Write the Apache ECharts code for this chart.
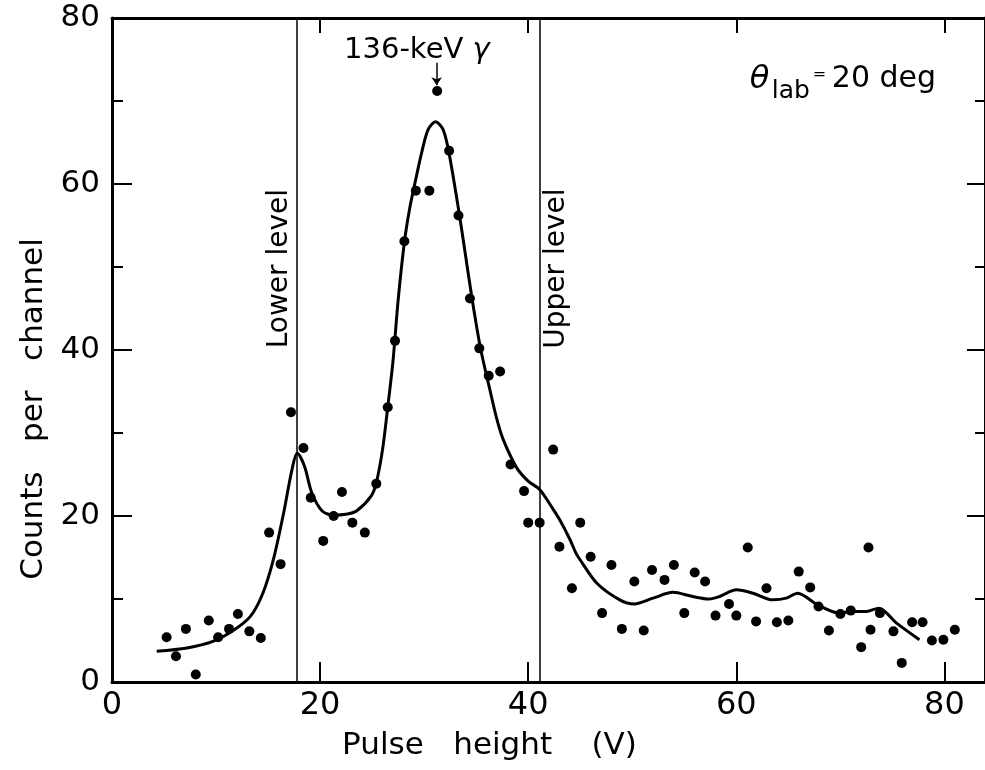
<!DOCTYPE html>
<html>
<head>
<meta charset="utf-8">
<script src="https://cdn.jsdelivr.net/npm/echarts@6/dist/echarts.min.js"></script>
<style>html,body{margin:0;padding:0;background:#fff}#c{width:985px;height:770px}</style>
</head>
<body>
<div id="c"></div>
<script>
// ---- data ----
const pointData = [
  [5.25,5.4],[6.15,3.1],[7.1,6.4],[8.05,0.9],[9.3,7.4],[10.2,5.4],[11.25,6.4],[12.1,8.2],[13.2,6.1],[14.3,5.3],
  [15.1,18.0],[16.2,14.2],[17.2,32.5],[18.4,28.2],[19.1,22.2],[20.3,17.0],[21.3,20.0],[22.1,22.9],[23.1,19.2],[24.3,18.0],
  [25.4,23.9],[26.5,33.1],[27.2,41.1],[28.1,53.1],[29.2,59.2],[30.5,59.2],[31.25,71.2],[32.4,64.0],[33.3,56.2],[34.4,46.2],
  [35.3,40.2],[36.2,36.9],[37.3,37.4],[38.3,26.2],[39.6,23.0],[40.0,19.2],[41.1,19.2],[42.4,28.0],[43.0,16.3],[44.2,11.3],
  [45.0,19.2],[46.0,15.1],[47.1,8.3],[48.0,14.1],[49.0,6.4],[50.2,12.1],[51.1,6.2],[51.9,13.5],[53.1,12.3],[54.0,14.1],
  [55.0,8.3],[56.0,13.2],[57.0,12.1],[58.0,8.0],[59.3,9.4],[60.0,8.0],[61.1,16.2],[61.9,7.3],[62.9,11.3],[63.9,7.2],
  [65.0,7.4],[66.0,13.3],[67.1,11.4],[67.9,9.1],[68.9,6.2],[70.0,8.2],[71.0,8.6],[72.0,4.2],[72.7,16.2],[72.9,6.3],
  [73.8,8.3],[75.1,6.1],[75.9,2.3],[76.9,7.2],[77.9,7.2],[78.8,5.0],[79.9,5.1],[81.0,6.3]
];
const curveData = [
  [4.3,3.7],[7.2,4.1],[9.7,4.9],[11.65,6.2],[13.3,7.9],[14.5,10.7],[15.5,14.7],[16.5,20.4],[17.3,25.6],[17.8,27.6],
  [18.5,26.0],[19.2,22.8],[20.2,20.6],[21.3,20.1],[22.5,20.2],[23.5,20.6],[24.9,22.4],[25.4,24.0],[26.0,28.0],[26.5,33.1],
  [27.0,38.6],[27.5,46.0],[28.1,53.0],[28.6,57.0],[29.2,60.6],[29.8,64.0],[30.4,66.6],[31.1,67.5],[31.8,66.6],[32.3,64.3],
  [32.8,60.8],[33.4,56.2],[34.0,51.2],[34.6,46.2],[35.4,40.3],[36.3,35.3],[37.0,31.6],[37.6,29.2],[38.9,25.8],[40.0,24.2],
  [41.1,23.2],[42.4,20.8],[43.0,19.6],[44.0,17.2],[44.6,15.5],[45.0,14.7],[46.6,11.9],[48.8,9.9],[50.2,9.4],[52.0,10.1],
  [53.9,10.8],[55.8,10.3],[57.4,10.0],[58.4,10.3],[60.0,11.1],[61.6,10.7],[63.5,9.9],[64.8,10.1],[65.9,10.7],[67.8,9.3],
  [69.9,8.3],[71.2,8.5],[72.5,8.5],[73.7,8.9],[75.4,7.1],[77.6,5.1]
];
const xTickLabels = [0, 20, 40, 60, 80];
const yTickLabels = [0, 20, 40, 60, 80];
const yMajorTicks = [20, 40, 60];
const yMinorTicks = [10, 30, 50, 70];
const xMin = 0, xMax = 83.9, yMin = 0, yMax = 80;
const levelLines = [{ name: 'Lower level', x: 17.8, labelX: 16.15, labelY: 49.8 },
                    { name: 'Upper level', x: 41.1, labelX: 42.75, labelY: 49.8 }];
const peakLabel = { text: '136-keV ', greek: 'γ', x: 29.3, y: 76.1 };
const peakArrow = { x: 31.2, yFrom: 74.6, yTo: 71.9 };
const angleLabel = { x: 61.3, y: 72.6 };
const xTitle = 'Pulse   height    (V)';
const yTitle = 'Counts   per   channel';

const FONT = 'DejaVu Sans';
const INK = '#000';
const GRID_W = 873;

const chart = echarts.init(document.getElementById('c'), null, { renderer: 'canvas' });

const axisLineStyle = { color: INK, width: 3 };
const tickStyle = { color: INK, width: 2 };
const option = {
  animation: false,
  backgroundColor: '#fff',
  grid: { left: 112, top: 18, width: GRID_W, height: 664 },
  xAxis: [{
    type: 'value', min: xMin, max: xMax, interval: 20, position: 'bottom',
    axisLine: { show: true, onZero: false, lineStyle: axisLineStyle },
    axisTick: { show: true, inside: true, length: 20, lineStyle: tickStyle },
    axisLabel: { margin: 8, fontSize: 32, color: INK, fontFamily: FONT, showMaxLabel: false,
      formatter: v => xTickLabels.indexOf(v) >= 0 ? String(v) : '' },
    splitLine: { show: false },
    name: xTitle, nameLocation: 'middle', nameGap: 48,
    nameTextStyle: { fontSize: 31, color: INK, fontFamily: FONT, padding: [0, 118, 0, 0] }
  }, {
    type: 'value', min: xMin, max: xMax, interval: 20, position: 'top',
    axisLine: { show: true, onZero: false, lineStyle: axisLineStyle },
    axisTick: { show: true, inside: true, length: 15, lineStyle: tickStyle },
    axisLabel: { show: false }, splitLine: { show: false }
  }],
  yAxis: [{
    type: 'value', min: yMin, max: yMax, interval: 20, position: 'left',
    axisLine: { show: true, onZero: false, lineStyle: axisLineStyle },
    axisTick: { show: true, inside: true, length: 20, lineStyle: tickStyle },
    minorTick: { show: true, splitNumber: 2, length: 11, lineStyle: tickStyle },
    axisLabel: { margin: 12, fontSize: 31, color: INK, fontFamily: FONT,
      formatter: v => yTickLabels.indexOf(v) >= 0 ? String(v) : '' },
    splitLine: { show: false },
    name: yTitle, nameLocation: 'middle', nameGap: 62,
    nameTextStyle: { fontSize: 31, color: INK, fontFamily: FONT, padding: [0, 118, 0, 0] }
  }, {
    type: 'value', min: yMin, max: yMax, interval: 20, position: 'right',
    axisLine: { show: true, onZero: false, lineStyle: axisLineStyle },
    axisTick: { show: true, inside: true, length: 18, lineStyle: tickStyle },
    minorTick: { show: true, splitNumber: 2, length: 10, lineStyle: tickStyle },
    axisLabel: { show: false }, splitLine: { show: false }
  }],
  series: [{
    name: 'fit', type: 'line', data: curveData, smooth: 0.3, showSymbol: false, silent: true,
    lineStyle: { color: INK, width: 3 },
    markLine: {
      silent: true, symbol: 'none', label: { show: false },
      lineStyle: { color: INK, width: 1.5, type: 'solid' },
      data: levelLines.map(l => ({ xAxis: l.x }))
    }
  }, {
    name: 'counts', type: 'scatter', data: pointData, symbolSize: 10, silent: true,
    itemStyle: { color: INK, opacity: 1 },
    markLine: {
      silent: true, symbol: ['none', 'arrow'], symbolSize: 8, label: { show: false },
      lineStyle: { color: INK, width: 1.5, type: 'solid' },
      data: [[{ coord: [peakArrow.x, peakArrow.yFrom] }, { coord: [peakArrow.x, peakArrow.yTo] }]]
    }
  }]
};
chart.setOption(option);

function px(x, y) { return chart.convertToPixel({ xAxisIndex: 0, yAxisIndex: 0 }, [x, y]); }

const graphics = [];
// inward ticks on the left axis, placed through the y scale
yMajorTicks.concat(yMinorTicks).forEach(v => {
  const p = px(xMin, v);
  const len = yMajorTicks.indexOf(v) >= 0 ? 20 : 11;
  graphics.push({ type: 'line', silent: true, z: 100,
    shape: { x1: p[0], y1: p[1], x2: p[0] + len, y2: p[1] },
    style: { stroke: INK, lineWidth: 2 } });
});
levelLines.forEach(l => {
  const p = px(l.labelX, l.labelY);
  graphics.push({ type: 'text', x: p[0], y: p[1], rotation: Math.PI / 2, silent: true,
    style: { text: l.name, font: '28px "' + FONT + '"', fill: INK,
      align: 'center', verticalAlign: 'middle', textAlign: 'center', textVerticalAlign: 'middle' } });
});
const pp = px(peakLabel.x, peakLabel.y);
graphics.push({ type: 'text', x: pp[0], y: pp[1], silent: true,
  style: { text: peakLabel.text + '{g|' + peakLabel.greek + '}', fill: INK,
    font: '29px "' + FONT + '"', fontSize: 29, fontFamily: FONT,
    align: 'center', verticalAlign: 'middle', textAlign: 'center', textVerticalAlign: 'middle',
    rich: { g: { fontSize: 29, fontFamily: FONT, fontStyle: 'italic', fill: INK } } } });
const ap = px(angleLabel.x, angleLabel.y);
const parts = [
  { t: 'θ', dx: 0, dy: 0, size: 32, style: 'italic' },
  { t: 'lab', dx: 22, dy: 12, size: 25, style: 'normal' },
  { t: '=', dx: 63, dy: -5, size: 16, style: 'normal' },
  { t: '20 deg', dx: 82, dy: 0, size: 30, style: 'normal' }
];
parts.forEach(pt => {
  graphics.push({ type: 'text', x: ap[0] + pt.dx, y: ap[1] + pt.dy, silent: true,
    style: { text: pt.t, fill: INK, font: pt.style + ' ' + pt.size + 'px "' + FONT + '"',
      align: 'left', verticalAlign: 'middle', textAlign: 'left', textVerticalAlign: 'middle' } });
});
chart.setOption({ graphic: { elements: graphics } });
</script>
</body>
</html>
